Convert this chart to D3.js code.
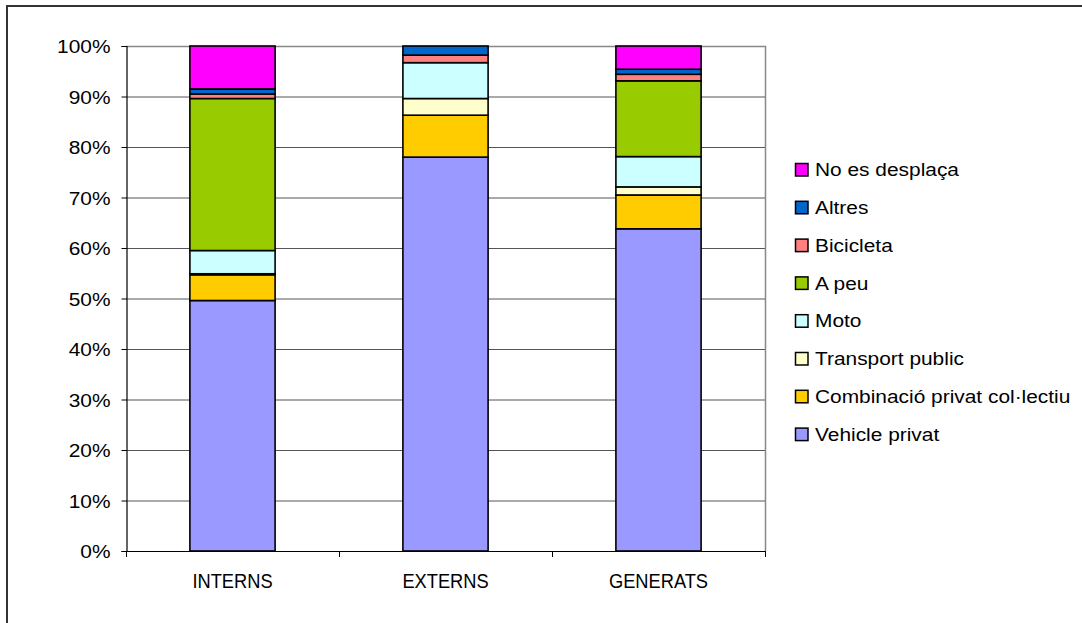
<!DOCTYPE html>
<html>
<head>
<meta charset="utf-8">
<script src="https://cdn.jsdelivr.net/npm/d3@7"></script>
<style>
  html, body { margin: 0; padding: 0; background: #fff; }
  svg { display: block; font-family: "Liberation Sans", Arial, sans-serif; }
</style>
</head>
<body>
<svg id="chart" width="1082" height="623"></svg>
<script>
// Modal split of trips, percentages per group (stacked bottom to top)
const categories = ["INTERNS", "EXTERNS", "GENERATS"];
const seriesNames = [
  "Vehicle privat",
  "Combinació privat col·lectiu",
  "Transport public",
  "Moto",
  "A peu",
  "Bicicleta",
  "Altres",
  "No es desplaça"
];
const vehiclePrivat   = [49.6, 78.0, 63.8];
const combinacio      = [5.1, 8.3, 6.7];
const transportPublic = [0.2, 3.3, 1.6];
const moto            = [4.6, 7.1, 6.0];
const aPeu            = [30.1, 0.0, 15.0];
const bicicleta       = [0.9, 1.5, 1.3];
const altres          = [1.0, 1.8, 1.0];
const noEsDesplaca    = [8.5, 0.0, 4.6];
const seriesColors = ["#9999FF", "#FFCC00", "#FFFFCC", "#CCFFFF", "#99CC00", "#FF8080", "#0066CC", "#FF00FF"];
const yTickLabels = ["0%", "10%", "20%", "30%", "40%", "50%", "60%", "70%", "80%", "90%", "100%"];

const seriesValues = [vehiclePrivat, combinacio, transportPublic, moto, aPeu, bicicleta, altres, noEsDesplaca];

// Build rows and normalise each category to 100%
const rows = categories.map((c, i) => {
  const row = { category: c };
  const total = d3.sum(seriesValues, s => s[i]);
  seriesNames.forEach((n, k) => row[n] = seriesValues[k][i] / total);
  return row;
});
const stacked = d3.stack().keys(seriesNames)(rows);

const svg = d3.select("#chart");
const plot = { left: 126, right: 765, top: 46, bottom: 551 };

// Outer chart frame
svg.append("rect")
  .attr("x", 7).attr("y", 6).attr("width", 1200).attr("height", 800)
  .attr("fill", "#fff").attr("stroke", "#333").attr("stroke-width", 2);

const x = d3.scaleBand().domain(categories)
  .range([plot.left, plot.right]).paddingInner(0.6).paddingOuter(0.3);
const y = d3.scaleLinear().domain([0, 1]).range([plot.bottom, plot.top]);

// Horizontal gridlines
const gridVals = d3.range(1, 10).map(d => d / 10);
svg.append("g").selectAll("line").data(gridVals).join("line")
  .attr("x1", plot.left).attr("x2", plot.right)
  .attr("y1", d => y(d) + 0.5).attr("y2", d => y(d) + 0.5)
  .attr("stroke", "#555").attr("stroke-width", 1);

// Plot area frame (top and right in grey)
svg.append("path")
  .attr("d", `M${plot.left},${plot.top + 0.5}H${plot.right + 0.5}V${plot.bottom}`)
  .attr("fill", "none").attr("stroke", "#888").attr("stroke-width", 1.5);

// Stacked bars
svg.append("g").selectAll("g").data(stacked).join("g")
  .attr("fill", (d, i) => seriesColors[i])
  .selectAll("rect").data(d => d.filter(p => p[1] - p[0] > 0)).join("rect")
  .attr("x", d => x(d.data.category))
  .attr("width", x.bandwidth())
  .attr("y", d => y(d[1]))
  .attr("height", d => y(d[0]) - y(d[1]))
  .attr("stroke", "#000").attr("stroke-width", 1.6);

// Y axis
const yAxis = d3.axisLeft(y)
  .tickValues(d3.range(0, 11).map(d => d / 10))
  .tickFormat((d, i) => yTickLabels[i])
  .tickSize(5).tickPadding(0);
const yg = svg.append("g").attr("transform", `translate(${plot.left + 0.5},0)`).call(yAxis);
yg.select(".domain").attr("stroke", "#000").attr("stroke-width", 1.2);
yg.selectAll(".tick line").attr("stroke", "#000");
yg.selectAll(".tick text").remove();
yg.selectAll(".tick").append("text")
  .attr("fill", "#000").attr("font-size", 19).attr("text-anchor", "end")
  .attr("dy", "0.36em")
  .attr("transform", "translate(-16,0) scale(1.1,1)")
  .text((d, i) => yTickLabels[i]);

// X axis: baseline with boundary ticks
const xg = svg.append("g");
xg.append("line")
  .attr("x1", plot.left).attr("x2", plot.right + 0.5)
  .attr("y1", plot.bottom + 0.5).attr("y2", plot.bottom + 0.5)
  .attr("stroke", "#000").attr("stroke-width", 1.2);
const bounds = [plot.left, ...categories.slice(1).map(c => x(c) - x.step() * x.paddingInner() / 2), plot.right];
xg.selectAll("line.tick").data(bounds).join("line").attr("class", "tick")
  .attr("x1", d => d + 0.5).attr("x2", d => d + 0.5)
  .attr("y1", plot.bottom).attr("y2", plot.bottom + 6)
  .attr("stroke", "#000");
xg.selectAll("text").data(categories).join("text")
  .attr("transform", d => `translate(${x(d) + x.bandwidth() / 2},588) scale(0.87,1)`)
  .attr("text-anchor", "middle").attr("font-size", 21).attr("fill", "#000")
  .text(d => d);

// Legend (top entry is the last series)
const legendItems = seriesNames.map((n, i) => ({ name: n, color: seriesColors[i] })).reverse();
const lg = svg.append("g");
const item = lg.selectAll("g").data(legendItems).join("g")
  .attr("transform", (d, i) => `translate(795,${169.5 + i * 37.8})`);
item.append("rect")
  .attr("x", 0.5).attr("y", -6).attr("width", 12.5).attr("height", 12.5)
  .attr("fill", d => d.color).attr("stroke", "#000").attr("stroke-width", 1.5);
item.append("text")
  .attr("transform", "translate(20,0) scale(1.13,1)")
  .attr("dy", "0.36em").attr("font-size", 18.5).attr("fill", "#000")
  .text(d => d.name);
</script>
</body>
</html>
